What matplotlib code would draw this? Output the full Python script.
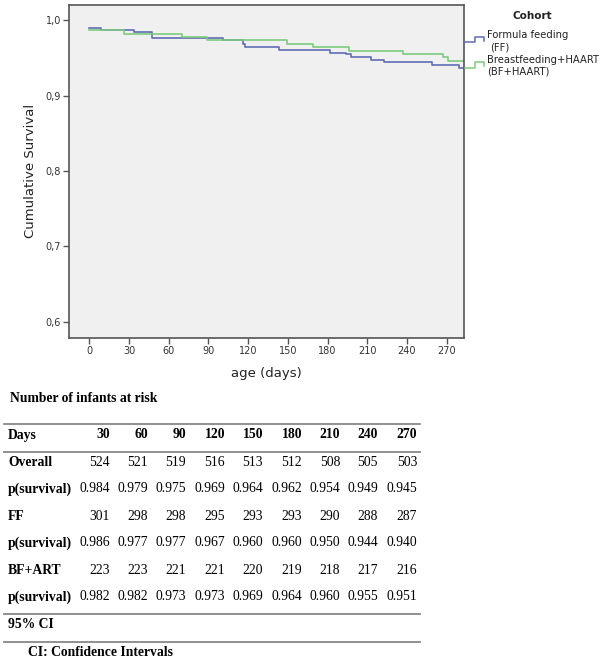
import matplotlib
matplotlib.use("Agg")
import matplotlib.pyplot as plt
from matplotlib.lines import Line2D

# Kaplan-Meier steps (days, cumulative survival)
ff_days = [0, 9, 34, 47, 101, 116, 118, 143, 182, 194, 198, 213, 223, 259, 279, 283]
ff_surv = [0.990, 0.987, 0.984, 0.977, 0.974, 0.968, 0.964, 0.961, 0.957, 0.955,
           0.951, 0.948, 0.945, 0.941, 0.937, 0.937]
bf_days = [0, 26, 70, 89, 149, 169, 196, 237, 267, 271, 283]
bf_surv = [0.987, 0.982, 0.978, 0.974, 0.969, 0.964, 0.959, 0.955, 0.951, 0.9455, 0.9455]

# table under the chart
days = ["30", "60", "90", "120", "150", "180", "210", "240", "270"]
overall_n = ["524", "521", "519", "516", "513", "512", "508", "505", "503"]
overall_p = ["0.984", "0.979", "0.975", "0.969", "0.964", "0.962", "0.954", "0.949", "0.945"]
ff_n = ["301", "298", "298", "295", "293", "293", "290", "288", "287"]
ff_p = ["0.986", "0.977", "0.977", "0.967", "0.960", "0.960", "0.950", "0.944", "0.940"]
bf_n = ["223", "223", "221", "221", "220", "219", "218", "217", "216"]
bf_p = ["0.982", "0.982", "0.973", "0.973", "0.969", "0.964", "0.960", "0.955", "0.951"]

W, H = 601, 661
fig = plt.figure(figsize=(W / 100, H / 100), dpi=100)


def fx(x):
    return x / W


def fy(y):
    return 1 - y / H


blue = "#5f6cb4"
green = "#7ccb7c"

ax = fig.add_axes([fx(69.3), fy(338), fx(464.3) - fx(69.3), fy(4.5) - fy(338)])
ax.set_facecolor("#f0f0f0")
ax.step(ff_days, ff_surv, where="post", color=blue, lw=1.2)
ax.step(bf_days, bf_surv, where="post", color=green, lw=1.2)
ax.set_xlim(-15.1, 283.3)
ax.set_ylim(0.5785, 1.021)
ax.set_xticks(range(0, 271, 30))
ax.set_yticks([0.6, 0.7, 0.8, 0.9, 1.0])
ax.set_yticklabels(["0,6", "0,7", "0,8", "0,9", "1,0"])
ax.tick_params(labelsize=7, length=4, width=1, color="#555555", labelcolor="#333333", pad=2)
for s in ax.spines.values():
    s.set_color("#555555")
    s.set_linewidth(1.2)
ax.set_xlabel("age (days)", fontsize=9.5, color="#222222", labelpad=8)
ax.set_ylabel("Cumulative Survival", fontsize=9.5, color="#222222", labelpad=6)

# legend drawn like SPSS step symbols
fig.text(fx(532), fy(16), "Cohort", fontsize=7.5, fontweight="bold", ha="center", va="center", color="#222222")
for col, ylo, yhi, lab1, lab2, y1, y2, x2 in [
        (blue, 41.7, 36.5, "Formula feeding", "(FF)", 35, 47, 490),
        (green, 67.5, 61.5, "Breastfeeding+HAART", "(BF+HAART)", 60, 72, 487)]:
    xs = [fx(465), fx(475), fx(475), fx(484), fx(484)]
    ys = [fy(ylo), fy(ylo), fy(yhi), fy(yhi), fy(yhi + 4)]
    fig.add_artist(Line2D(xs, ys, color=col, lw=1.1))
    fig.text(fx(487), fy(y1), lab1, fontsize=7.2, va="center", color="#222222")
    fig.text(fx(x2), fy(y2), lab2, fontsize=7.2, va="center", color="#222222")

# table
serif = "Liberation Serif"
fs = 9.8
fig.text(fx(10), fy(398), "Number of infants at risk", family=serif, fontsize=fs,
         fontweight="bold", va="center")
col_right = [110, 148, 186, 225, 263, 302, 340, 378, 417]
rows = [("Days", days, 435, True),
        ("Overall", overall_n, 462, False),
        ("p(survival)", overall_p, 489, False),
        ("FF", ff_n, 516, False),
        ("p(survival)", ff_p, 543, False),
        ("BF+ART", bf_n, 570, False),
        ("p(survival)", bf_p, 597, False)]
for name, vals, y, bold in rows:
    fig.text(fx(8), fy(y), name, family=serif, fontsize=fs, fontweight="bold", va="center")
    for xr, v in zip(col_right, vals):
        fig.text(fx(xr), fy(y), v, family=serif, fontsize=fs, ha="right", va="center",
                 fontweight="bold" if bold else "normal")
fig.text(fx(8), fy(625), "95% CI", family=serif, fontsize=fs, fontweight="bold", va="center")
fig.text(fx(28), fy(653), "CI: Confidence Intervals", family=serif, fontsize=fs,
         fontweight="bold", va="center")
for y in [424, 452, 614, 642]:
    fig.add_artist(Line2D([fx(4), fx(420)], [fy(y), fy(y)], color="#888888", lw=1.3))

fig.savefig("out.png", dpi=100)
